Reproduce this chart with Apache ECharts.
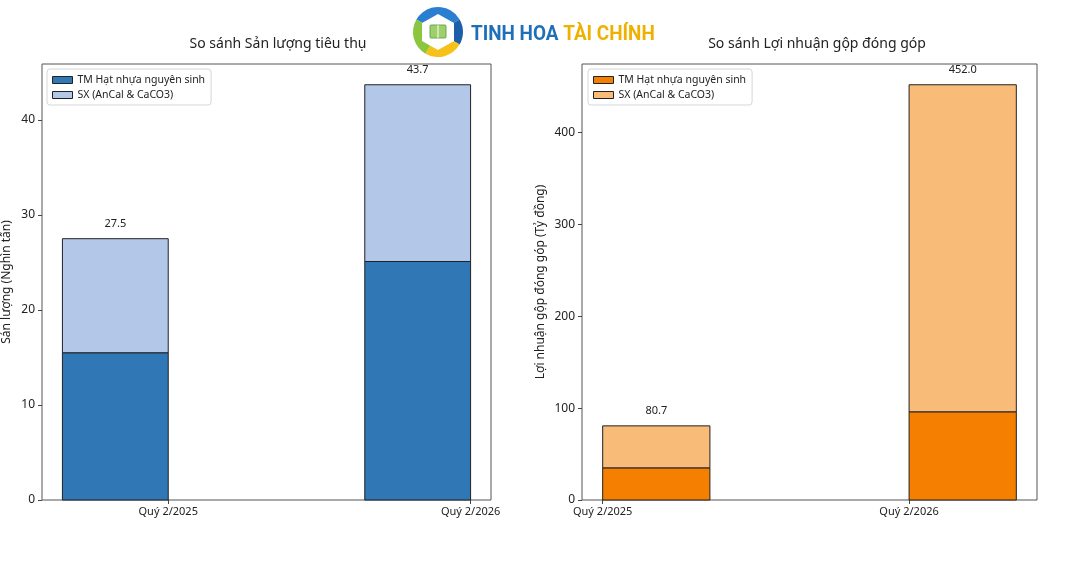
<!DOCTYPE html>
<html>
<head>
<meta charset="utf-8">
<script src="https://cdn.jsdelivr.net/npm/echarts@6/dist/echarts.min.js"></script>
<style>html,body{margin:0;padding:0;background:#fff}#c{width:1066px;height:586px}</style>
</head>
<body>
<div id="c"></div>
<script>
var categories = ['Quý 2/2025', 'Quý 2/2026'];
var volTM = [15.5, 25.1];
var volSX = [12.0, 18.6];
var profitTM = [35.0, 96.0];
var profitSX = [45.7, 356.0];
var seriesNames = ['TM Hạt nhựa nguyên sinh', 'SX (AnCal & CaCO3)'];
var titles = ['So sánh Sản lượng tiêu thụ', 'So sánh Lợi nhuận gộp đóng góp'];
var yNames = ['Sản lượng (Nghìn tấn)', 'Lợi nhuận gộp đóng góp (Tỷ đồng)'];

var FONT = 'Noto Sans';
var BAR_W = 0.35;
var TXT = '#222';

function totals(a, b) { return a.map(function (v, i) { return v + b[i]; }); }
var volTot = totals(volTM, volSX);
var profTot = totals(profitTM, profitSX);

function rectRender(offset, color) {
  return function (params, api) {
    var i = api.value(0), lo = api.value(1), hi = api.value(2);
    var p0 = api.coord([i + offset, hi]);
    var p1 = api.coord([i + offset + BAR_W, lo]);
    return {
      type: 'rect',
      shape: { x: p0[0], y: p0[1], width: p1[0] - p0[0], height: p1[1] - p0[1] },
      style: { fill: color, stroke: '#222', lineWidth: 1 }
    };
  };
}
function labelRender(offset) {
  return function (params, api) {
    var i = api.value(0), t = api.value(1);
    var p = api.coord([i + offset + BAR_W / 2, t]);
    return {
      type: 'text',
      x: p[0], y: p[1] - 15,
      style: { text: t.toFixed(1), fill: TXT, font: '11px "' + FONT + '"', align: 'center', verticalAlign: 'middle' }
    };
  };
}

function stackSeries(idx, offset, tm, sx, colTM, colSX, suffix) {
  return [
    { type: 'custom', name: seriesNames[0] + suffix, xAxisIndex: idx, yAxisIndex: idx,
      itemStyle: { color: colTM, borderColor: '#222', borderWidth: 1 },
      renderItem: rectRender(offset, colTM), encode: { x: 0, y: [1, 2] },
      data: tm.map(function (v, i) { return [i, 0, v]; }) },
    { type: 'custom', name: seriesNames[1] + suffix, xAxisIndex: idx, yAxisIndex: idx,
      itemStyle: { color: colSX, borderColor: '#222', borderWidth: 1 },
      renderItem: rectRender(offset, colSX), encode: { x: 0, y: [1, 2] },
      data: tm.map(function (v, i) { return [i, v, v + sx[i]]; }) },
    { type: 'custom', name: 'tot' + idx, xAxisIndex: idx, yAxisIndex: idx, silent: true,
      renderItem: labelRender(offset), encode: { x: 0, y: 1 },
      data: tm.map(function (v, i) { return [i, v + sx[i]]; }) }
  ];
}

function xAxis(idx, min, max) {
  return {
    type: 'value', gridIndex: idx, min: min, max: max,
    splitLine: { show: false }, axisLine: { show: false, onZero: false },
    axisTick: { show: true, length: 4, lineStyle: { color: '#444' }, customValues: [0, 1] },
    axisLabel: { customValues: [0, 1], color: TXT, fontFamily: FONT, fontSize: 11, margin: 6,
      formatter: function (v) { return categories[Math.round(v)] || ''; } }
  };
}
function yAxis(idx, max, interval, gap) {
  return {
    type: 'value', gridIndex: idx, min: 0, max: max, interval: interval,
    splitLine: { show: false }, axisLine: { show: false, onZero: false },
    axisTick: { show: true, length: 4, lineStyle: { color: '#444' } },
    axisLabel: { color: TXT, fontFamily: FONT, fontSize: 12, margin: 7, showMaxLabel: false },
    name: yNames[idx], nameLocation: 'middle', nameGap: gap,
    nameTextStyle: { color: TXT, fontFamily: FONT, fontSize: 12 }
  };
}
function legend(idx, left, suffix, colors) {
  return {
    orient: 'vertical', left: left, top: 69,
    data: seriesNames.map(function (n, k) {
      return { name: n + suffix, icon: 'rect', itemStyle: { color: colors[k], borderColor: '#222', borderWidth: 1 } };
    }),
    formatter: function (n) { return n.trim(); },
    itemWidth: 20, itemHeight: 7, itemGap: 3,
    padding: [5, 6, 4, 5], borderColor: '#d6d6d6', borderWidth: 1, borderRadius: 3,
    backgroundColor: '#fff', selectedMode: false,
    textStyle: { color: TXT, fontFamily: FONT, fontSize: 10.5, lineHeight: 12 }
  };
}

var C = { tm1: '#3077b5', sx1: '#b3c7e9', tm2: '#f57f00', sx2: '#f8bb78' };

var chart = echarts.init(document.getElementById('c'), null, { renderer: 'canvas' });
chart.setOption({
  backgroundColor: '#fff',
  animation: false,
  title: [
    { text: titles[0], left: 273, top: 32, textAlign: 'center',
      textStyle: { color: TXT, fontFamily: FONT, fontSize: 14, fontWeight: 'normal' } },
    { text: titles[1], left: 812, top: 32, textAlign: 'center',
      textStyle: { color: TXT, fontFamily: FONT, fontSize: 14, fontWeight: 'normal' } }
  ],
  grid: [
    { left: 41, top: 64, width: 450, height: 436, show: true, borderColor: '#555', borderWidth: 1, containLabel: false },
    { left: 582, top: 64, width: 455, height: 436, show: true, borderColor: '#555', borderWidth: 1, containLabel: false }
  ],
  legend: [legend(0, 47, '', [C.tm1, C.sx1]), legend(1, 588, ' ', [C.tm2, C.sx2])],
  xAxis: [
    xAxis(0, -BAR_W - 0.0675, 1.0675),
    xAxis(1, -0.0675, 1 + BAR_W + 0.0675)
  ],
  yAxis: [
    yAxis(0, Math.max.apply(null, volTot) * 1.05, 10, 29),
    yAxis(1, Math.max.apply(null, profTot) * 1.05, 100, 35)
  ],
  series: [].concat(
    stackSeries(0, -BAR_W, volTM, volSX, C.tm1, C.sx1, ''),
    stackSeries(1, 0, profitTM, profitSX, C.tm2, C.sx2, ' ')
  ),
  graphic: [
    { type: 'sector', shape: { cx: 438, cy: 32, r0: 13, r: 25, startAngle: -5 * Math.PI / 6, endAngle: -Math.PI / 6 }, style: { fill: '#2a7fd0' } },
    { type: 'sector', shape: { cx: 438, cy: 32, r0: 13, r: 25, startAngle: -Math.PI / 6, endAngle: Math.PI / 6 }, style: { fill: '#1c5fa8' } },
    { type: 'sector', shape: { cx: 438, cy: 32, r0: 13, r: 25, startAngle: Math.PI / 6, endAngle: 2 * Math.PI / 3 }, style: { fill: '#f6c21a' } },
    { type: 'sector', shape: { cx: 438, cy: 32, r0: 13, r: 25, startAngle: 2 * Math.PI / 3, endAngle: 7 * Math.PI / 6 }, style: { fill: '#8cc63f' } },
    { type: 'polygon', shape: { points: [[438, 14], [454, 23], [454, 41], [438, 50], [422, 41], [422, 23]] }, style: { fill: '#fff' } },
    { type: 'rect', shape: { x: 430, y: 25, width: 16, height: 13, r: 1 }, style: { fill: '#9fcf6a', stroke: '#6aa84f', lineWidth: 1 } },
    { type: 'line', shape: { x1: 438, y1: 25, x2: 438, y2: 38 }, style: { stroke: '#fff', lineWidth: 1 } },
    { type: 'text', x: 471, y: 35, scaleX: 0.9,
      style: { text: '{a|TINH HOA }{b|TÀI CHÍNH}', verticalAlign: 'middle',
        rich: { a: { fill: '#1f6fb8', font: 'bold 21px Roboto' }, b: { fill: '#f0b000', font: 'bold 21px Roboto' } } } }
  ]
});
</script>
</body>
</html>
